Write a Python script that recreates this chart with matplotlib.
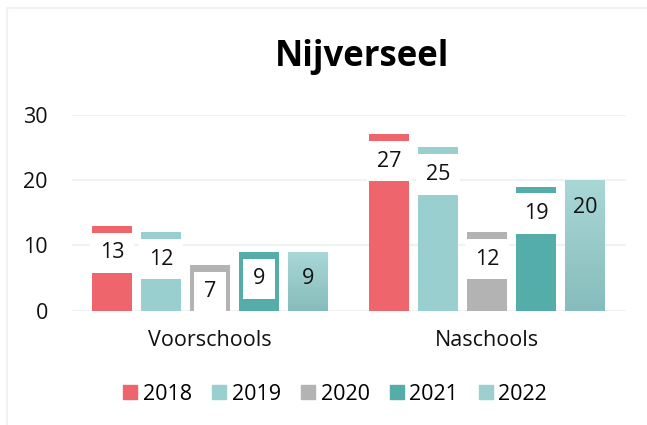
"""
Grouped bar chart of Nijverseel pupil counts per year.
"""

import matplotlib
matplotlib.use('Agg')
import matplotlib.pyplot as plt
import numpy as np
from matplotlib.colors import LinearSegmentedColormap
from matplotlib.patches import Rectangle

categories = ['Voorschools', 'Naschools']
years = ['2018', '2019', '2020', '2021', '2022']
values = {
    '2018': [13, 27],
    '2019': [12, 25],
    '2020': [7, 12],
    '2021': [9, 19],
    '2022': [9, 20],
}
colors = ['#EE666B', '#9ACFCF', '#B3B3B3', '#55ADAA', '#9CD0CF']
boxed = [True, True, True, True, False]

W, H = 647, 425
FS = 15.5


def main():
    plt.rcParams['font.family'] = ['Open Sans', 'DejaVu Sans']

    fig = plt.figure(figsize=(W / 100, H / 100), dpi=100)
    ax = fig.add_axes([71.5 / W, (H - 310.7) / H, 554 / W, 196 / H])

    # light frame at the top and left
    fig.patches.append(Rectangle((6.5 / W, -0.1), 2, (H - 8) / H + 0.1,
                                 transform=fig.transFigure, fill=False,
                                 edgecolor='#EEF4F3', linewidth=1.5))

    x = np.arange(len(categories))
    step = 49 / 277
    width = 40 / 277
    grad = LinearSegmentedColormap.from_list('g', ['#86BDBC', '#A8D7D6'])

    for i, year in enumerate(years):
        xs = x + (i - 2) * step
        vals = values[year]
        if year == '2022':
            bars = ax.bar(xs, vals, width, color='none', edgecolor='none',
                          zorder=2)
            for b in bars:
                img = ax.imshow(np.linspace(0, 1, 100).reshape(-1, 1),
                                cmap=grad, origin='lower', aspect='auto',
                                extent=[b.get_x(), b.get_x() + b.get_width(),
                                        0, b.get_height()], zorder=2)
                img.set_clip_path(b)
        else:
            bars = ax.bar(xs, vals, width, color=colors[i], zorder=2)
        for b, v in zip(bars, vals):
            bbox = None
            if boxed[i]:
                bbox = dict(facecolor='white', edgecolor='none',
                            boxstyle='square,pad=0.45')
            ax.annotate(str(v), (b.get_x() + b.get_width() / 2, v),
                        xytext=(0, -27), textcoords='offset pixels',
                        ha='center', va='center', fontsize=FS,
                        color='#111111', bbox=bbox, zorder=3)

    ax.set_xlim(-0.5, 1.5)
    ax.set_ylim(0, 30)
    ax.set_yticks([0, 10, 20, 30])
    ax.set_xticks(x)
    ax.set_xticklabels(categories)
    ax.tick_params(length=0, labelsize=FS, labelcolor='#111111')
    ax.tick_params(axis='y', pad=17)
    ax.tick_params(axis='x', pad=14)
    ax.grid(axis='y', color='#EEF4F3', linewidth=1.5, zorder=0)
    for s in ax.spines.values():
        s.set_visible(False)
    ax.set_facecolor('none')

    fig.text(362 / W, 1 - 57 / H, 'Nijverseel', ha='center', va='center',
             fontsize=25, fontweight='bold', color='black')

    handles = [Rectangle((0, 0), 1, 1, color=c) for c in colors]
    fig.legend(handles, years, loc='center', bbox_to_anchor=(335 / W, 1 - 394 / H),
               ncol=5, frameon=False, fontsize=FS, handlelength=0.65,
               handleheight=0.65, handletextpad=0.25, columnspacing=0.95)

    fig.savefig('out.png', dpi=100)


if __name__ == '__main__':
    main()
